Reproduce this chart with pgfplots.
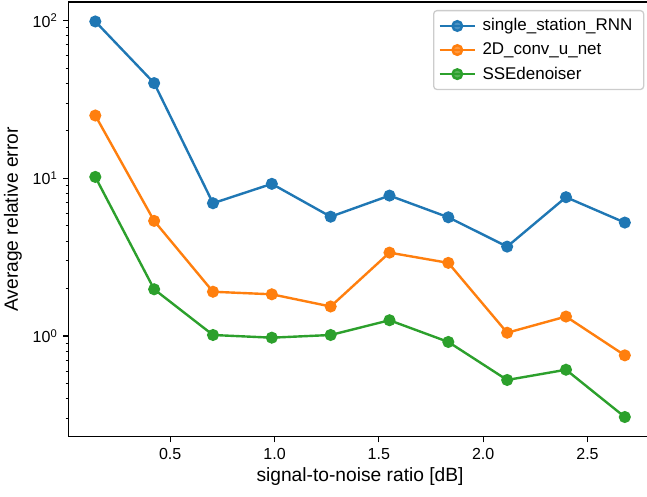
\documentclass[border=0pt]{standalone}
\usepackage{pgfplots}
\pgfplotsset{compat=1.18}
\usepackage{fontspec}
\setmainfont{Liberation Sans}
\definecolor{C0}{HTML}{1F77B4}
\definecolor{C1}{HTML}{FF7F0E}
\definecolor{C2}{HTML}{2CA02C}
\definecolor{legedge}{HTML}{CCCCCC}
\begin{document}
\begin{tikzpicture}
\begin{axis}[
  scale only axis,
  width=364pt, height=271.7pt,
  ymode=log,
  xmin=0.014, xmax=2.806,
  ymin=0.23, ymax=131,
  xtick={0.5,1.0,1.5,2.0,2.5},
  xticklabels={0.5,1.0,1.5,2.0,2.5},
  ytick={1,10,100},
  yticklabels={10\textsuperscript{0},10\textsuperscript{1},10\textsuperscript{2}},
  minor ytick={0.3,0.4,0.5,0.6,0.7,0.8,0.9,2,3,4,5,6,7,8,9,20,30,40,50,60,70,80,90},
  tick align=outside,
  tick pos=left,
  major tick length=3.5pt,
  minor tick length=2pt,
  every major tick/.style={line width=0.8pt, black},
  every minor tick/.style={line width=0.6pt, black},
  axis line style={line width=0.8pt},
  ticklabel style={font=\fontsize{10}{12}\selectfont},
  xlabel={signal-to-noise ratio [dB]},
  ylabel={Average relative error},
  label style={font=\fontsize{12}{14}\selectfont},
  xlabel style={yshift=2pt},
  legend style={at={(1,1)}, anchor=north east, xshift=-4.4pt, yshift=-5pt,
    draw=legedge, line width=0.8pt, rounded corners=2pt, fill=white, fill opacity=0.8, text opacity=1,
    font=\fontsize{10.6}{12.7}\selectfont, row sep=2pt, inner xsep=3pt, inner ysep=3pt,
    nodes={inner xsep=4pt}},
  legend cell align=left,
  legend image code/.code={\draw[mark repeat=2,mark phase=2] plot coordinates {(0pt,0pt) (11pt,0pt) (22pt,0pt)};},
  every axis plot/.append style={line width=1.5pt, mark=*, mark size=3pt},
]
\addplot[color=C0, mark options={draw=none, fill=C0}] coordinates {
(0.141,98.6) (0.423,40.1) (0.705,6.95) (0.987,9.22) (1.269,5.71) (1.551,7.77) (1.833,5.66) (2.115,3.69) (2.397,7.59) (2.679,5.24)};
\addlegendentry{single\_station\_RNN}
\addplot[color=C1, mark options={draw=none, fill=C1}] coordinates {
(0.141,25.0) (0.423,5.37) (0.705,1.91) (0.987,1.84) (1.269,1.54) (1.551,3.38) (1.833,2.91) (2.115,1.05) (2.397,1.33) (2.679,0.755)};
\addlegendentry{2D\_conv\_u\_net}
\addplot[color=C2, mark options={draw=none, fill=C2}] coordinates {
(0.141,10.2) (0.423,1.98) (0.705,1.016) (0.987,0.977) (1.269,1.016) (1.551,1.26) (1.833,0.918) (2.115,0.527) (2.397,0.612) (2.679,0.307)};
\addlegendentry{SSEdenoiser}
\end{axis}
\pgfresetboundingbox
\path[use as bounding box] ([xshift=-43pt,yshift=-37pt]current axis.south west) rectangle ([xshift=-2.7pt,yshift=1.25pt]current axis.north east);
\end{tikzpicture}
\end{document}
